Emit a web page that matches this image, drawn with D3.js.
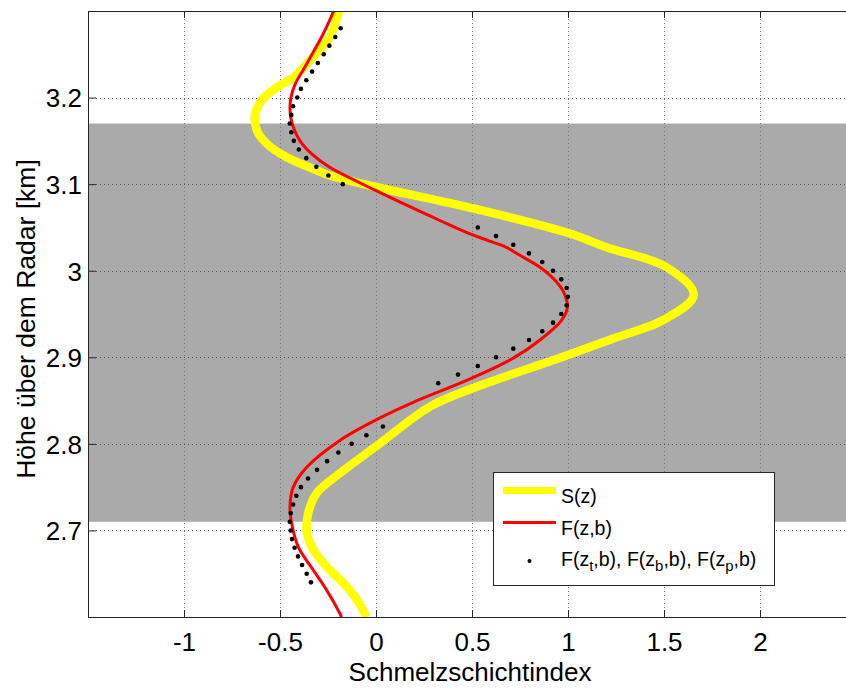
<!DOCTYPE html>
<html><head><meta charset="utf-8">
<script src="https://cdn.jsdelivr.net/npm/d3@7"></script>
<style>body{margin:0;background:#fff}svg{display:block}text{font-family:"Liberation Sans",Arial,Helvetica,sans-serif}</style>
</head><body>
<script>
// ---- data ----
const xTicks = [-1, -0.5, 0, 0.5, 1, 1.5, 2];
const yTicks = [2.7, 2.8, 2.9, 3.0, 3.1, 3.2];
const xLabel = "Schmelzschichtindex";
const yLabel = "Höhe über dem Radar [km]";
const bandRange = [2.71, 3.17];

// S(z) yellow
const sHeight = [2.600, 2.620, 2.639, 2.658, 2.681, 2.700, 2.720, 2.743, 2.766, 2.797, 2.843, 2.864, 2.902, 2.922, 2.943, 2.972, 3.004, 3.027, 3.043, 3.072, 3.097, 3.110, 3.116, 3.131, 3.147, 3.162, 3.181, 3.197, 3.212, 3.223, 3.243, 3.270, 3.297, 3.300];
const sValue  = [-0.050, -0.100, -0.170, -0.257, -0.335, -0.361, -0.353, -0.309, -0.188, 0.000, 0.281, 0.500, 0.993, 1.240, 1.496, 1.655, 1.514, 1.200, 1.010, 0.507, -0.005, -0.240, -0.309, -0.465, -0.570, -0.620, -0.630, -0.595, -0.517, -0.430, -0.344, -0.240, -0.196, -0.190];

// F(z,b) red
const fHeight = [2.600, 2.604, 2.631, 2.654, 2.681, 2.708, 2.727, 2.750, 2.773, 2.804, 2.830, 2.848, 2.875, 2.899, 2.920, 2.943, 2.958, 2.975, 2.987, 3.004, 3.019, 3.027, 3.041, 3.058, 3.093, 3.120, 3.135, 3.150, 3.166, 3.177, 3.189, 3.200, 3.216, 3.235, 3.254, 3.274, 3.297, 3.300];
const fValue  = [-0.180, -0.188, -0.257, -0.326, -0.405, -0.439, -0.448, -0.431, -0.361, -0.188, 0.021, 0.194, 0.490, 0.715, 0.854, 0.967, 0.997, 0.978, 0.941, 0.854, 0.740, 0.680, 0.507, 0.333, -0.005, -0.245, -0.335, -0.396, -0.431, -0.444, -0.448, -0.443, -0.420, -0.371, -0.323, -0.274, -0.226, -0.220];

// F(z_t,b), F(z_b,b), F(z_p,b) dots
const dHeight = [2.64, 2.65, 2.66, 2.67, 2.68, 2.69, 2.70, 2.71, 2.72, 2.73, 2.74, 2.75, 2.76, 2.77, 2.78, 2.79, 2.80, 2.81, 2.82,
                 2.87, 2.88, 2.89, 2.90, 2.91, 2.92, 2.93, 2.94, 2.95, 2.96, 2.97, 2.98, 2.99, 3.00, 3.01, 3.02, 3.03, 3.04, 3.05,
                 3.10, 3.11, 3.12, 3.13, 3.14, 3.15, 3.16, 3.17, 3.18, 3.19, 3.20, 3.21, 3.22, 3.23, 3.24, 3.25, 3.26, 3.27, 3.28];
const dValue  = [-0.339, -0.361, -0.385, -0.406, -0.424, -0.438, -0.444, -0.449, -0.444, -0.432, -0.415, -0.391, -0.354, -0.307, -0.255, -0.196, -0.127, -0.050, 0.036,
                 0.324, 0.427, 0.530, 0.625, 0.715, 0.797, 0.866, 0.922, 0.965, 0.993, 0.999, 0.993, 0.965, 0.922, 0.866, 0.797, 0.715, 0.625, 0.530,
                 -0.173, -0.248, -0.311, -0.363, -0.402, -0.428, -0.441, -0.449, -0.441, -0.432, -0.410, -0.391, -0.363, -0.333, -0.303, -0.272, -0.243, -0.212, -0.184];

const legendLabels = ["S(z)", "F(z,b)"];

// ---- layout ----
const W = 846, H = 688;
const L = 88, T = 11, R = 856, B = 617;
const svg = d3.select("body").append("svg").attr("width", W).attr("height", H);

const x = d3.scaleLinear().domain([-1.5, 2.5]).range([L, R]);
const y = d3.scaleLinear().domain([2.6, 3.3]).range([B, T]);

svg.append("defs").append("clipPath").attr("id", "clip")
  .append("rect").attr("x", L).attr("y", T).attr("width", R - L).attr("height", B - T);

// band
svg.append("rect").attr("x", L).attr("width", R - L)
  .attr("y", y(bandRange[1])).attr("height", y(bandRange[0]) - y(bandRange[1]))
  .attr("fill", "#aaaaaa");

// grid
const grid = svg.append("g");
xTicks.forEach(v => grid.append("line").attr("x1", Math.round(x(v)) + 0.5).attr("x2", Math.round(x(v)) + 0.5)
  .attr("y1", T).attr("y2", B).attr("stroke", "#777").attr("stroke-dasharray", "1,3"));
yTicks.forEach(v => grid.append("line").attr("y1", Math.round(y(v)) + 0.5).attr("y2", Math.round(y(v)) + 0.5)
  .attr("x1", L).attr("x2", R).attr("stroke", "#555").attr("stroke-dasharray", "1,3"));

const plot = svg.append("g").attr("clip-path", "url(#clip)");

const sData = sHeight.map((h, i) => [sValue[i], h]);
const fData = fHeight.map((h, i) => [fValue[i], h]);
const dData = dHeight.map((h, i) => [dValue[i], h]);

plot.append("path").datum(sData)
  .attr("d", d3.line().x(d => x(d[0])).y(d => y(d[1])).curve(d3.curveCatmullRom.alpha(0.5)))
  .attr("fill", "none").attr("stroke", "#ffff00").attr("stroke-width", 8.5).attr("stroke-linejoin", "round");

plot.append("path").datum(fData)
  .attr("d", d3.line().x(d => x(d[0])).y(d => y(d[1])).curve(d3.curveCatmullRom))
  .attr("fill", "none").attr("stroke", "#ff0000").attr("stroke-width", 3);

plot.selectAll("circle.dot").data(dData).enter().append("circle").attr("class", "dot")
  .attr("cx", d => x(d[0])).attr("cy", d => y(d[1])).attr("r", 2.3).attr("fill", "#000");

// axes frame
const axisColor = "#262626";
svg.append("line").attr("x1", L + 0.5).attr("x2", L + 0.5).attr("y1", T).attr("y2", B + 0.5).attr("stroke", axisColor);
svg.append("line").attr("x1", L).attr("x2", R).attr("y1", B + 0.5).attr("y2", B + 0.5).attr("stroke", axisColor);
svg.append("line").attr("x1", L).attr("x2", R).attr("y1", T + 0.5).attr("y2", T + 0.5).attr("stroke", axisColor);

// axes with d3
const fmt = d => (Math.round(d * 10) / 10).toString();
const xAxisB = d3.axisBottom(x).tickValues(xTicks).tickSizeInner(-7).tickSizeOuter(0).tickPadding(16).tickFormat(fmt);
const xAxisT = d3.axisTop(x).tickValues(xTicks).tickSizeInner(-7).tickSizeOuter(0).tickFormat("");
const yAxisL = d3.axisLeft(y).tickValues(yTicks).tickSizeInner(-8).tickSizeOuter(0).tickPadding(14).tickFormat(fmt);

function styleAxis(g) {
  g.select(".domain").remove();
  g.selectAll(".tick line").attr("stroke", axisColor);
  g.selectAll(".tick text").attr("fill", "#000").style("font-size", "26px")
    .style("font-family", '"Liberation Sans", Arial, sans-serif');
}
svg.append("g").attr("transform", `translate(0,${B})`).call(xAxisB).call(styleAxis)
  .selectAll(".tick text").attr("dy", "0.71em").attr("y", 16);
svg.append("g").attr("transform", `translate(0,${T})`).call(xAxisT).call(styleAxis);
svg.append("g").attr("transform", `translate(${L},0)`).call(yAxisL).call(styleAxis)
  .selectAll(".tick text").attr("x", -6).attr("dy", "0.36em");

// axis labels
svg.append("text").attr("x", 470).attr("y", 681).attr("text-anchor", "middle")
  .style("font-size", "26px").text(xLabel);
svg.append("text").attr("transform", `translate(35,${(T + B) / 2 + 5}) rotate(-90)`).attr("text-anchor", "middle")
  .style("font-size", "26.5px").text(yLabel);

// legend
const lg = svg.append("g");
lg.append("rect").attr("x", 493.5).attr("y", 472.5).attr("width", 281).attr("height", 113)
  .attr("fill", "#fff").attr("stroke", axisColor);
lg.append("line").attr("x1", 503).attr("x2", 556).attr("y1", 490.5).attr("y2", 490.5)
  .attr("stroke", "#ffff00").attr("stroke-width", 7);
lg.append("text").attr("x", 561).attr("y", 503).style("font-size", "19.5px").text(legendLabels[0]);
lg.append("line").attr("x1", 503).attr("x2", 556).attr("y1", 522.5).attr("y2", 522.5)
  .attr("stroke", "#ff0000").attr("stroke-width", 3);
lg.append("text").attr("x", 561).attr("y", 535).style("font-size", "19.5px").text(legendLabels[1]);
lg.append("circle").attr("cx", 529.5).attr("cy", 561).attr("r", 2).attr("fill", "#000");
const t3 = lg.append("text").attr("x", 561).attr("y", 566).style("font-size", "19.5px");
const parts = [["F(z", 0], ["t", 1], [",b), F(z", 0], ["b", 1], [",b), F(z", 0], ["p", 1], [",b)", 0]];
parts.forEach(([s, sub]) => {
  const ts = t3.append("tspan").text(s);
  if (sub) ts.attr("dy", 5).style("font-size", "15px");
  else ts.attr("dy", t3.selectAll("tspan").size() > 1 ? -5 : 0);
});
</script>
</body></html>
